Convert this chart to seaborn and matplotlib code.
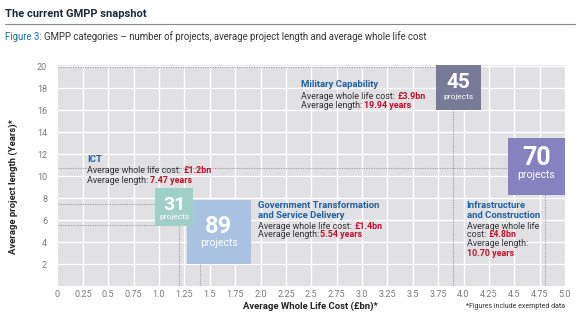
import numpy as np
import pandas as pd
import matplotlib
matplotlib.use("Agg")
import matplotlib.pyplot as plt
import seaborn as sns

# ---------------- data ----------------
categories = ["Government Transformation and Service Delivery", "ICT",
              "Military Capability", "Infrastructure and Construction"]
projects = [89, 31, 45, 70]
avg_cost = [1.4, 1.2, 3.9, 4.8]          # £bn
avg_length = [5.54, 7.47, 19.94, 10.70]  # years
cost_labels = ["£1.4bn", "£1.2bn", "£3.9bn", "£4.8bn"]
length_labels = ["5.54 years", "7.47 years", "19.94 years", "10.70 years"]

xticks = [0, 0.25, 0.5, 0.75, 1.0, 1.25, 1.5, 1.75, 2.0, 2.25, 2.5, 2.75,
          3.0, 3.25, 3.5, 3.75, 4.0, 4.25, 4.5, 4.75, 5.0]
xtick_labels = ["0", "0.25", "0.5", "0.75", "1.0", "1.25", "1.5", "1.75",
                "2.0", "2.25", "2.5", "2.75", "3.0", "3.25", "3.5", "3.75",
                "4.0", "4.25", "4.5", "4.75", "5.0"]
yticks = [2, 4, 6, 8, 10, 12, 14, 16, 18, 20]

# ---------------- layout / style ----------------
box_colors = ["#a9c2e2", "#9fd0c8", "#787b97", "#8682bf"]
box_dx = [0.19, -0.05, 0.05, -0.08]      # box centre offset from data point
box_dy = [-0.60, -0.27, -1.84, 0.20]
num_size = [17, 14, 15, 18]
proj_size = [7.5, 6, 6, 7.5]
num_off = [5, 1.5, 4.5, 8.5]            # px above centre
proj_off = [11.5, 10, 10, 8.5]         # px below centre

sns.set_theme(style="white")
plt.rcParams["font.family"] = ["Roboto", "DejaVu Sans"]

DPI = 100
fig = plt.figure(figsize=(5.8, 3.23), dpi=DPI)
W, H = 580, 323
left, right, top, bottom = 57.5, 565, 65, 286
ax = fig.add_axes([left / W, 1 - bottom / H, (right - left) / W, (bottom - top) / H])
ax.set_facecolor("#e1e1e4")
ax.set_xlim(0, 5.0)
ax.set_ylim(0, 20.1)

for x in xticks[1:]:
    ax.axvline(x, color="white", lw=1.0, zorder=0.5)
for y in yticks:
    ax.axhline(y, color="white", lw=1.0, zorder=0.5)

ax.set_xticks(xticks)
ax.set_xticklabels(xtick_labels)
ax.set_yticks(yticks)
ax.set_yticklabels([str(v) for v in yticks])
ax.tick_params(axis="x", length=0, labelsize=6.5, colors="#7a7a7a", pad=3)
ax.tick_params(axis="y", length=0, labelsize=6.5, colors="#7a7a7a", pad=7.5)
for s in ax.spines.values():
    s.set_visible(False)

# dotted reference lines
for c, l in zip(avg_cost, avg_length):
    ax.plot([0, c], [l, l], ls=(0, (1, 1.2)), color="#9c9c9c", lw=0.8, zorder=1)
    ax.plot([c, c], [0, l], ls=(0, (1, 1.2)), color="#9c9c9c", lw=0.8, zorder=1)

# boxes: area proportional to number of projects
px_per_sqrt = 6.79  # pixel side per sqrt(project)
df = pd.DataFrame({
    "category": categories,
    "projects": projects,
    "bx": np.array(avg_cost) + np.array(box_dx),
    "by": np.array(avg_length) + np.array(box_dy),
})
k = (px_per_sqrt * 72 / DPI) ** 2
sns.scatterplot(data=df, x="bx", y="by", hue="category", size="projects",
                sizes=(k * min(projects), k * max(projects)),
                size_norm=(min(projects), max(projects)),
                palette=dict(zip(categories, box_colors)), marker="s",
                linewidth=0, alpha=1, legend=False, ax=ax, zorder=3)
ax.set_xlabel("")
ax.set_ylabel("")

for i in range(len(categories)):
    bx, by = df.bx[i], df.by[i]
    ax.annotate(str(projects[i]), (bx, by), xytext=(0, num_off[i] * 0.72),
                textcoords="offset points", ha="center", va="center",
                color="white", fontsize=num_size[i], fontweight="bold", zorder=4)
    ax.annotate("projects", (bx, by), xytext=(0, -proj_off[i] * 0.72),
                textcoords="offset points", ha="center", va="center",
                color="white", fontsize=proj_size[i], zorder=4)

# annotations
BLUE = "#1f62a3"
DARK = "#333333"
RED = "#c0102a"
fs = 6.4


def mixed(x, y, a, b):
    t = ax.text(x, y, a, color=DARK, fontsize=fs, va="center", ha="left", zorder=5)
    ax.annotate(b, xy=(1, 0), xycoords=t, va="bottom", ha="left", color=RED,
                fontsize=fs, fontweight="bold", zorder=5)


def title(x, y, s):
    ax.text(x, y, s, color=BLUE, fontsize=6.8, fontweight="bold", va="center",
            ha="left", zorder=5)


# ICT
title(0.29, 11.55, "ICT")
mixed(0.29, 10.55, "Average whole life cost: ", cost_labels[1])
mixed(0.29, 9.64, "Average length: ", length_labels[1])
# Military
title(2.40, 18.36, "Military Capability")
mixed(2.40, 17.27, "Average whole life cost: ", cost_labels[2])
mixed(2.40, 16.45, "Average length: ", length_labels[2])
# Government
title(1.98, 7.36, "Government Transformation")
title(1.98, 6.45, "and Service Delivery")
mixed(1.98, 5.45, "Average whole life cost: ", cost_labels[0])
mixed(1.98, 4.64, "Average length:", length_labels[0])
# Infrastructure
title(4.03, 7.36, "Infrastructure")
title(4.03, 6.45, "and Construction")
ax.text(4.03, 5.45, "Average whole life", color=DARK, fontsize=fs, va="center", zorder=5)
mixed(4.03, 4.64, "cost: ", cost_labels[3])
ax.text(4.03, 3.82, "Average length:", color=DARK, fontsize=fs, va="center", zorder=5)
ax.text(4.03, 3.00, length_labels[3], color=RED, fontsize=fs, fontweight="bold",
        va="center", zorder=5)

# axis labels
ax.text(-0.088, 0.45, "Average project length (Years)*", transform=ax.transAxes,
        rotation=90, ha="center", va="center", fontsize=6.8, fontweight="bold",
        color="#222222")
fig.text(310 / W, 1 - 306 / H, "Average Whole Life Cost (£bn)*",
         ha="center", va="center", fontsize=6.8, fontweight="bold", color="#222222")
fig.text(565 / W, 1 - 306 / H, "*Figures include exempted data", ha="right",
         va="center", fontsize=5, color="#333333")

# header
fig.text(5 / W, 1 - 14 / H, "The current GMPP snapshot", ha="left", va="center",
         fontsize=8, fontweight="bold", color="#1c2a3a")
fig.add_artist(plt.Line2D([5 / W, 575 / W], [1 - 24 / H, 1 - 24 / H],
                          color="#8a8a8a", lw=0.8))
t1 = fig.text(5 / W, 1 - 37 / H, "Figure 3: ", ha="left", va="center",
              fontsize=6.9, color="#1f6fa8")
ax.annotate("GMPP categories \u2013 number of projects, average project length and average whole life cost",
            xy=(1, 0), xycoords=t1, va="bottom", ha="left", fontsize=6.9,
            color="#333333", annotation_clip=False)

fig.savefig("out.png", dpi=DPI)
